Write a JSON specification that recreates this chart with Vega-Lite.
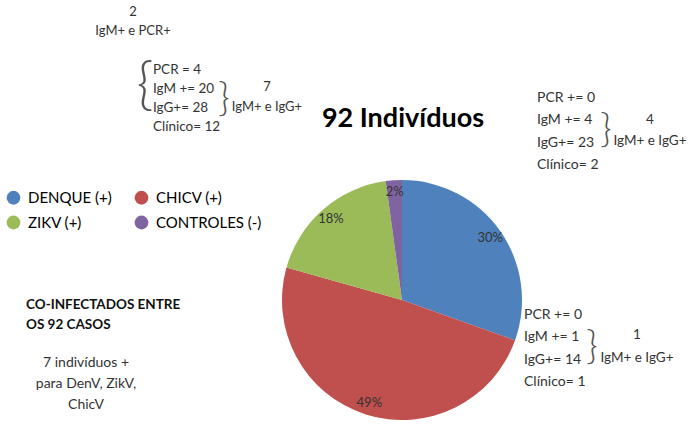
{
  "$schema": "https://vega.github.io/schema/vega-lite/v6.json",
  "width": 690,
  "height": 441,
  "autosize": "none",
  "padding": 0,
  "background": "white",
  "config": {"view": {"stroke": null}, "text": {"font": "Lato", "color": "#333333"}},
  "data": {"values": [
    {"idx": 1, "category": "DENQUE (+)", "count": 28, "pct": "30%"},
    {"idx": 2, "category": "CHICV (+)", "count": 45, "pct": "49%"},
    {"idx": 3, "category": "ZIKV (+)", "count": 17, "pct": "18%"},
    {"idx": 4, "category": "CONTROLES (-)", "count": 2, "pct": "2%"}
  ]},
  "layer": [
    {
      "mark": {"type": "arc", "outerRadius": 120, "x": 402, "y": 300},
      "encoding": {
        "theta": {"field": "count", "type": "quantitative", "stack": true},
        "order": {"field": "idx", "type": "quantitative"},
        "color": {
          "field": "category", "type": "nominal",
          "scale": {"domain": ["DENQUE (+)", "ZIKV (+)", "CHICV (+)", "CONTROLES (-)"], "range": ["#4F81BD", "#9BBB59", "#C0504D", "#8064A2"]},
          "legend": {
            "title": null, "orient": "none", "legendX": 6, "legendY": 190, "columns": 2,
            "symbolType": "circle", "symbolSize": 190, "symbolStrokeWidth": 0,
            "labelFont": "Lato", "labelFontSize": 15, "labelColor": "#000000",
            "labelOffset": 7, "columnPadding": 22, "rowPadding": 9, "labelLimit": 200
          }
        }
      }
    },
    {
      "mark": {"type": "text", "radius": 108, "x": 402, "y": 300, "fontSize": 13, "color": "#333333"},
      "encoding": {
        "theta": {"field": "count", "type": "quantitative", "stack": true},
        "order": {"field": "idx", "type": "quantitative"},
        "text": {"field": "pct", "type": "nominal"}
      }
    },
    {
      "data": {"values": [{}]},
      "mark": {"type": "text", "text": "92 Indivíduos", "x": 403, "y": 119, "align": "center", "baseline": "middle", "fontSize": 27, "fontWeight": "bold", "color": "#000000"},
      "encoding": {}
    },
    {
      "data": {"values": [{}]},
      "mark": {"type": "text", "text": ["2", "IgM+ e PCR+"], "x": 133, "y": 12, "lineHeight": 19, "align": "center", "baseline": "middle", "fontSize": 13},
      "encoding": {}
    },
    {
      "data": {"values": [{}]},
      "mark": {"type": "text", "text": ["PCR = 4", "IgM += 20", "IgG+= 28", "Clínico= 12"], "x": 153, "y": 70, "lineHeight": 19, "align": "left", "baseline": "middle", "fontSize": 13.5},
      "encoding": {}
    },
    {
      "data": {"values": [{}]},
      "mark": {"type": "text", "text": "{", "x": 145, "y": 86, "align": "center", "baseline": "middle", "fontSize": 58, "fontWeight": 300, "color": "#555555"},
      "encoding": {}
    },
    {
      "data": {"values": [{}]},
      "mark": {"type": "text", "text": "}", "x": 224, "y": 99, "align": "center", "baseline": "middle", "fontSize": 40, "fontWeight": 300, "color": "#555555"},
      "encoding": {}
    },
    {
      "data": {"values": [{}]},
      "mark": {"type": "text", "text": ["7", "IgM+ e IgG+"], "x": 267, "y": 87, "lineHeight": 20, "align": "center", "baseline": "middle", "fontSize": 13},
      "encoding": {}
    },
    {
      "data": {"values": [{}]},
      "mark": {"type": "text", "text": ["PCR += 0", "IgM += 4", "IgG+= 23", "Clínico= 2"], "x": 537, "y": 98, "lineHeight": 22.3, "align": "left", "baseline": "middle", "fontSize": 14},
      "encoding": {}
    },
    {
      "data": {"values": [{}]},
      "mark": {"type": "text", "text": "}", "x": 606, "y": 130, "align": "center", "baseline": "middle", "fontSize": 40, "fontWeight": 300, "color": "#555555"},
      "encoding": {}
    },
    {
      "data": {"values": [{}]},
      "mark": {"type": "text", "text": ["4", "IgM+ e IgG+"], "x": 650, "y": 120, "lineHeight": 21, "align": "center", "baseline": "middle", "fontSize": 13.5},
      "encoding": {}
    },
    {
      "data": {"values": [{}]},
      "mark": {"type": "text", "text": ["PCR += 0", "IgM += 1", "IgG+= 14", "Clínico= 1"], "x": 524, "y": 315, "lineHeight": 22.3, "align": "left", "baseline": "middle", "fontSize": 14},
      "encoding": {}
    },
    {
      "data": {"values": [{}]},
      "mark": {"type": "text", "text": "}", "x": 592, "y": 347, "align": "center", "baseline": "middle", "fontSize": 40, "fontWeight": 300, "color": "#555555"},
      "encoding": {}
    },
    {
      "data": {"values": [{}]},
      "mark": {"type": "text", "text": ["1", "IgM+ e IgG+"], "x": 637, "y": 335, "lineHeight": 23, "align": "center", "baseline": "middle", "fontSize": 13.5},
      "encoding": {}
    },
    {
      "data": {"values": [{}]},
      "mark": {"type": "text", "text": ["CO-INFECTADOS ENTRE", "OS 92 CASOS"], "x": 26, "y": 305, "lineHeight": 20, "align": "left", "baseline": "middle", "fontSize": 13.5, "fontWeight": "bold", "color": "#111111"},
      "encoding": {}
    },
    {
      "data": {"values": [{}]},
      "mark": {"type": "text", "text": ["7 indivíduos +", "para DenV, ZikV,", "ChicV"], "x": 86, "y": 363, "lineHeight": 21, "align": "center", "baseline": "middle", "fontSize": 14},
      "encoding": {}
    }
  ]
}
